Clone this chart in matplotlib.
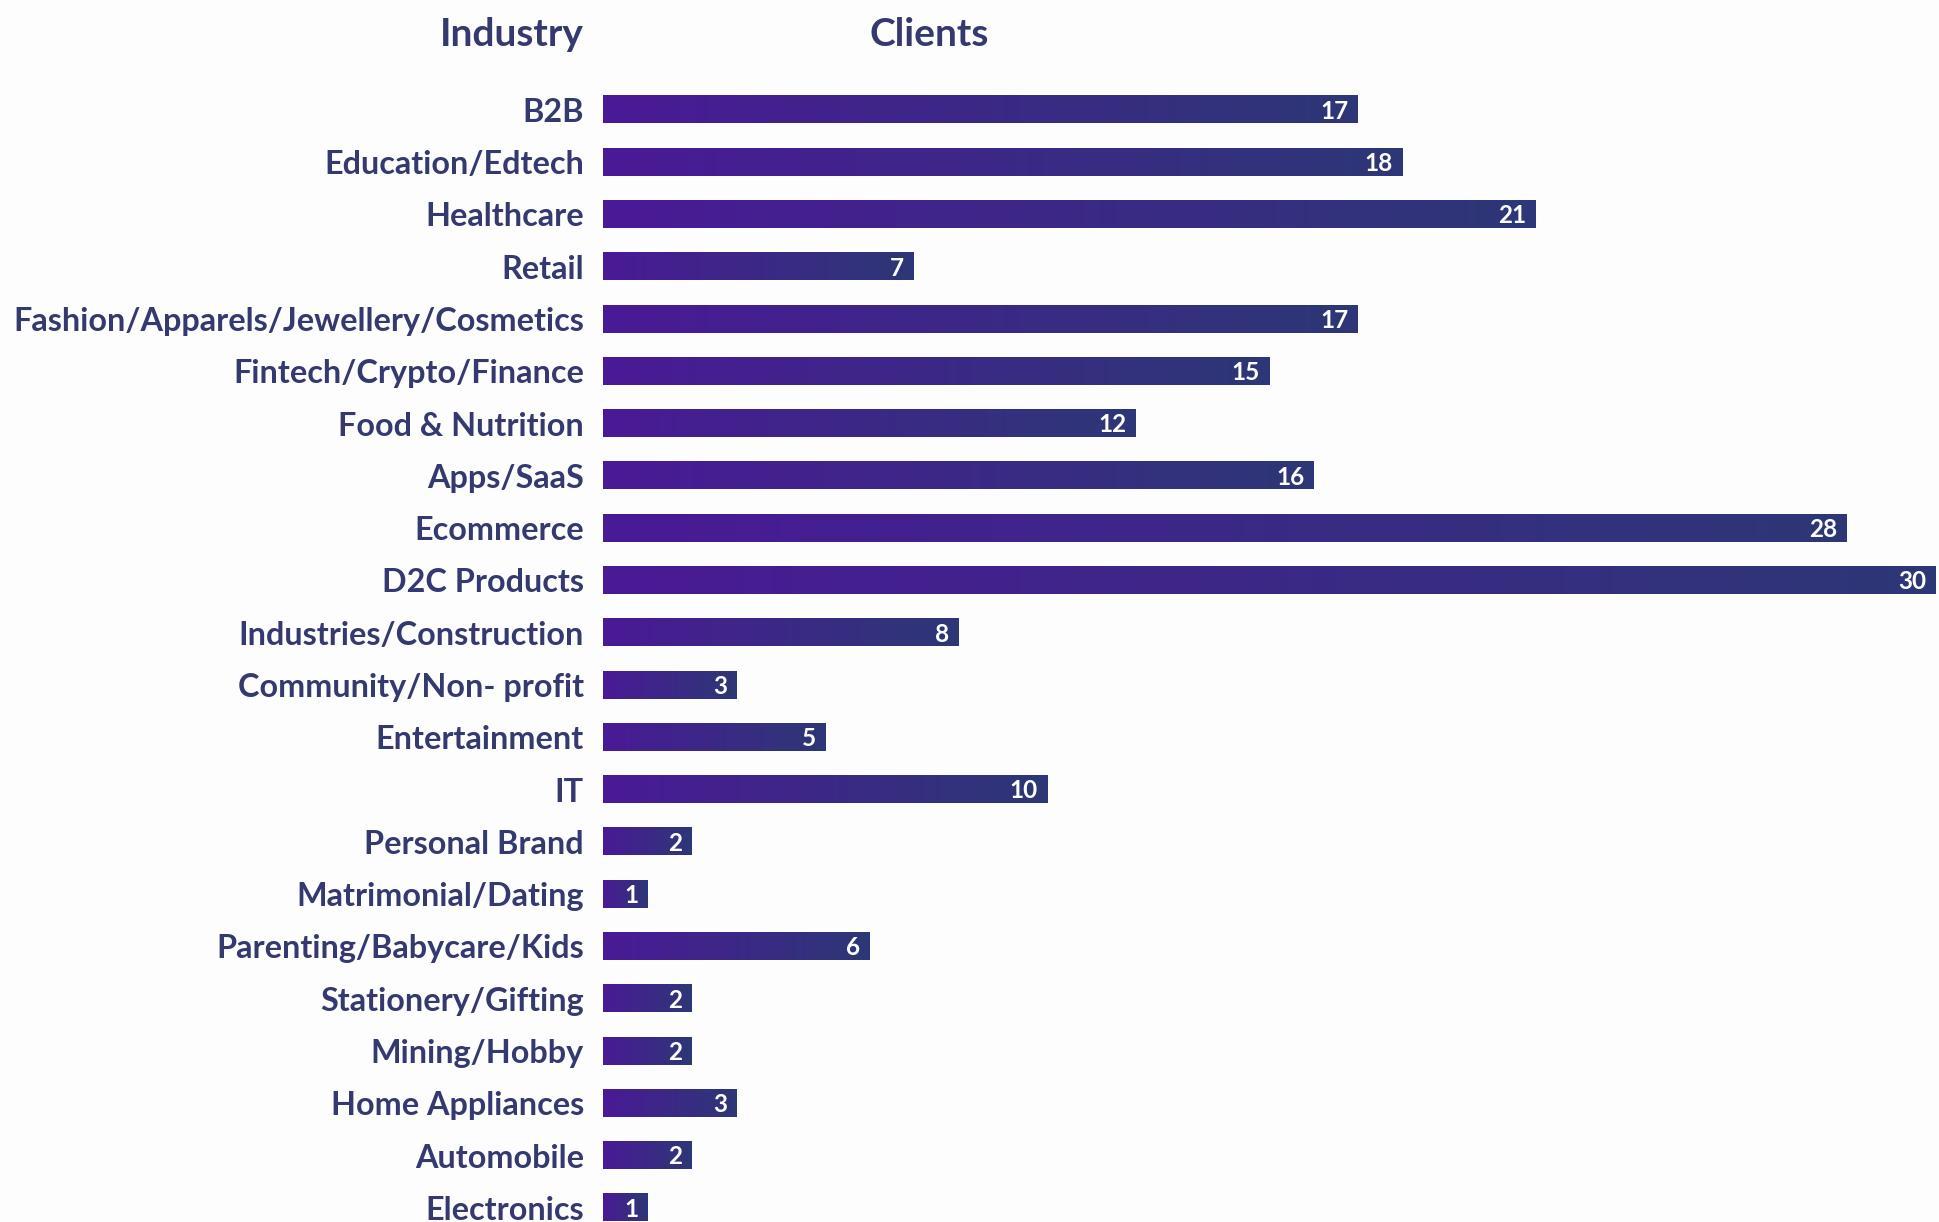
"""Industry vs clients horizontal bar chart with per-bar gradient fill."""

import matplotlib.pyplot as plt
import numpy as np
from matplotlib.colors import LinearSegmentedColormap

industries = [
    "B2B", "Education/Edtech", "Healthcare", "Retail",
    "Fashion/Apparels/Jewellery/Cosmetics", "Fintech/Crypto/Finance",
    "Food & Nutrition", "Apps/SaaS", "Ecommerce", "D2C Products",
    "Industries/Construction", "Community/Non- profit", "Entertainment", "IT",
    "Personal Brand", "Matrimonial/Dating", "Parenting/Babycare/Kids",
    "Stationery/Gifting", "Mining/Hobby", "Home Appliances", "Automobile",
    "Electronics",
]
clients = [17, 18, 21, 7, 17, 15, 12, 16, 28, 30, 8, 3, 5, 10, 2, 1, 6, 2, 2, 3, 2, 1]

TEXT = "#34396f"
grad = LinearSegmentedColormap.from_list("bar", ["#4a1a96", "#2d3776"])

plt.rcParams["font.family"] = ["Lato", "DejaVu Sans"]

fig = plt.figure(figsize=(19.4, 12.22), dpi=100, facecolor="#fdfdfe")
ax = fig.add_axes([0.311, 0.0, 0.689, 1.0])
ax.set_facecolor("#fdfdfe")

y = np.arange(len(industries))
h = 0.52
ax.barh(y, clients, height=h, color="none")
g = np.linspace(0, 1, 256).reshape(1, -1)
for yi, v in zip(y, clients):
    ax.imshow(g, cmap=grad, aspect="auto", extent=[0, v, yi + h / 2, yi - h / 2],
              interpolation="bicubic", zorder=2)
    ax.annotate(str(v), (v, yi), xytext=(-7, -1), textcoords="offset points",
                ha="right", va="center", color="white", fontsize=17.5,
                fontweight="bold", zorder=3)

ax.set_xlim(0, 30.1)
ax.set_ylim(21.27, -2.1)
ax.set_yticks(y)
ax.set_yticklabels(industries, fontsize=23.3, color=TEXT, fontweight="bold")
ax.tick_params(axis="y", length=0, pad=14)
ax.set_xticks([])
for s in ax.spines.values():
    s.set_visible(False)

fig.text(0.301, 0.972, "Industry", ha="right", va="center", fontsize=28,
         fontweight="bold", color=TEXT)
fig.text(0.479, 0.972, "Clients", ha="center", va="center", fontsize=28,
         fontweight="bold", color=TEXT)

fig.savefig("out.png", dpi=100, facecolor=fig.get_facecolor())
